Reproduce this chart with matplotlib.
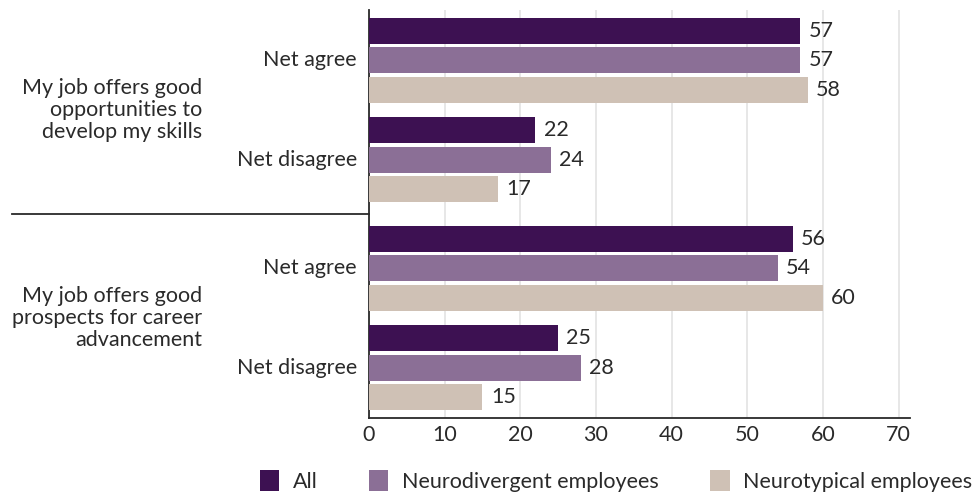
import matplotlib.pyplot as plt
import matplotlib.transforms as mtransforms
from matplotlib.patches import Patch
import numpy as np

plt.rcParams['font.family'] = ['Lato', 'DejaVu Sans']

# Data
questions = ["My job offers good\nopportunities to\ndevelop my skills",
             "My job offers good\nprospects for career\nadvancement"]
responses = ["Net agree", "Net disagree"]
series = ["All", "Neurodivergent employees", "Neurotypical employees"]
all_vals = [57, 22, 56, 25]
nd_vals = [57, 24, 54, 28]
nt_vals = [58, 17, 60, 15]
colors = ["#3d1152", "#8b6f96", "#cfc1b5"]

# layout of bar positions
sub_gap = 3.36     # distance between response groups
q_gap = 7.05       # distance between questions
bar_h = 0.88
fs = 15.5
txt_col = "#2a2a2a"

fig = plt.figure(figsize=(9.76, 4.96), dpi=100)
ax = fig.add_axes([369 / 976, 1 - 418 / 496, (910 - 369) / 976, (418 - 10) / 496])

group_starts = []
for qi in range(len(questions)):
    for ri in range(len(responses)):
        group_starts.append(qi * q_gap + ri * sub_gap)
group_starts = np.array(group_starts)

for si, vals in enumerate([all_vals, nd_vals, nt_vals]):
    bars = ax.barh(group_starts + si, vals, height=bar_h, color=colors[si],
                   label=series[si], zorder=3)
    ax.bar_label(bars, labels=[str(v) for v in vals], padding=6,
                 fontsize=fs, color=txt_col)

ax.set_xlim(0, 71.5)
ax.set_ylim(group_starts[-1] + 2 + 0.71, -0.71)
ax.set_xticks(range(0, 80, 10))
ax.tick_params(axis='x', length=0, labelsize=fs, colors=txt_col, pad=5)
ax.set_yticks([])
ax.grid(axis='x', color="#e3e3e3", linewidth=1.2, zorder=0)
for s in ["top", "right"]:
    ax.spines[s].set_visible(False)
for s in ["left", "bottom"]:
    ax.spines[s].set_color(txt_col)
    ax.spines[s].set_linewidth(1.3)

# response labels
for i, g in enumerate(group_starts):
    ax.text(-1.6, g + 1, responses[i % 2], ha="right", va="center",
            fontsize=fs, color=txt_col)

# question labels
for qi, q in enumerate(questions):
    yc = qi * q_gap + (sub_gap + 2) / 2
    ax.text(-22.0, yc, q, ha="right", va="center", fontsize=fs,
            color=txt_col, linespacing=1.15)

# separator between questions
sep_y = (group_starts[1] + 2 + group_starts[2]) / 2
trans = mtransforms.blended_transform_factory(fig.transFigure, ax.transData)
ax.plot([12 / 976, 369 / 976], [sep_y, sep_y], transform=trans, color=txt_col,
        linewidth=1.3, clip_on=False)

handles = [Patch(facecolor=c, label=s) for c, s in zip(colors, series)]
fig.legend(handles=handles, loc="center", bbox_to_anchor=(616 / 976, 1 - 481 / 496),
           ncol=3, frameon=False, fontsize=fs, handlelength=0.9, handleheight=1.1,
           handletextpad=0.63, columnspacing=2.4, labelcolor=txt_col)

fig.savefig("out.png", dpi=100)
